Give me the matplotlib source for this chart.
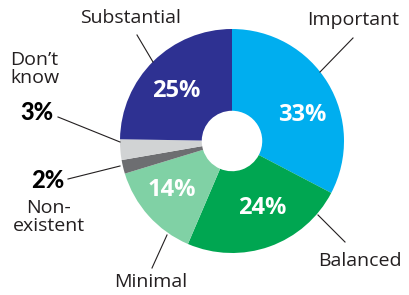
import matplotlib
matplotlib.use("Agg")
import matplotlib.pyplot as plt

categories = ["Important", "Balanced", "Minimal", "Non-existent", "Don't know", "Substantial"]
values = [33, 24, 14, 2, 3, 25]
colors = ["#00AEEF", "#00A651", "#80D1A5", "#6D6E71", "#D1D3D4", "#2E3192"]
pct_labels = ["33%", "24%", "14%", "2%", "3%", "25%"]
cat_labels = ["Important", "Balanced", "Minimal", "Non-\nexistent", "Don\u2019t\nknow", "Substantial"]

W, H = 410, 295
fig = plt.figure(figsize=(W / 100, H / 100), dpi=100)
ax = fig.add_axes([0, 0, 1, 1])

cx, cy, R = 232, 141, 112
ax.pie(values, colors=colors, startangle=-90, counterclock=True,
       center=(cx, cy), radius=R, frame=True,
       wedgeprops=dict(width=R * 0.73, linewidth=0))
ax.set_xlim(0, W)
ax.set_ylim(H, 0)
ax.axis("off")

font = "Open Sans"
dark = "#231F20"
inside_pos = {"33%": (302, 115), "24%": (262, 208), "14%": (172, 190), "25%": (176, 91)}
for lab in ["33%", "24%", "14%", "25%"]:
    x, y = inside_pos[lab]
    ax.text(x, y, lab, color="white", fontsize=17, fontweight="bold", family=font,
            ha="center", va="center")

cat_pos = {"Substantial": (131, 18), "Important": (353, 20), "Balanced": (360, 261),
           "Minimal": (151, 282)}
for lab, (x, y) in cat_pos.items():
    ax.text(x, y, lab, fontsize=14, family=font, ha="center", va="center", color=dark)
ax.text(10, 69, cat_labels[4], fontsize=14, family=font, ha="left", va="center",
        color=dark, linespacing=1.05)
ax.text(49, 217, cat_labels[3], fontsize=14, family=font, ha="center", va="center",
        color=dark, linespacing=1.05)
ax.text(37, 113, pct_labels[4], fontsize=17, fontweight="black", family="Lato",
        ha="center", va="center", color="black")
ax.text(48, 180, pct_labels[3], fontsize=17, fontweight="black", family="Lato",
        ha="center", va="center", color="black")

lines = [((137, 35), (153, 62)),
         ((353, 38), (320, 72)),
         ((318, 215), (345, 242)),
         ((167, 235), (152, 268)),
         ((58, 117), (120, 142)),
         ((68, 179), (120, 166))]
for (x0, y0), (x1, y1) in lines:
    ax.plot([x0, x1], [y0, y1], color=dark, linewidth=0.8)

fig.savefig("out.png", dpi=100)
